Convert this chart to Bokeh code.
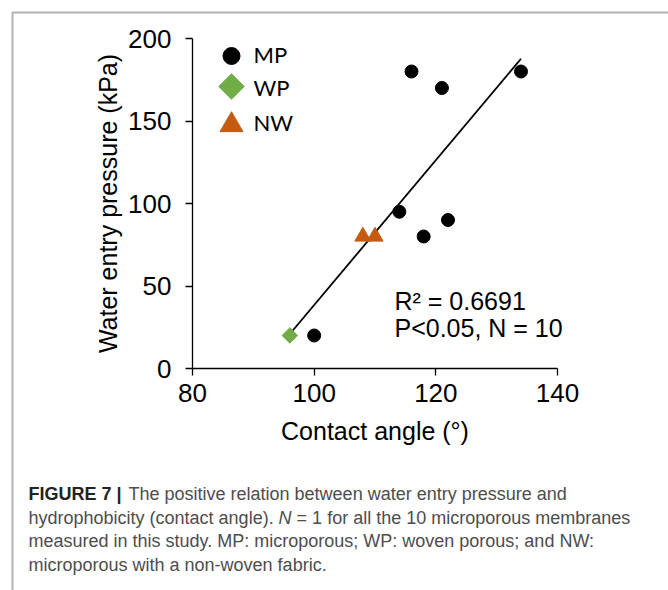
import numpy as np
from bokeh.plotting import figure
from bokeh.models import Range1d, PolyAnnotation, FixedTicker
from bokeh.core.properties import value
from bokeh.embed import file_html
from bokeh.resources import INLINE

# ---------------- data ----------------
mp_angle = [116, 121, 134, 114, 122, 118, 100]
mp_pressure = [180, 170, 180, 95, 90, 80, 20]
wp_angle = [96]
wp_pressure = [20]
nw_angle = [108, 110]
nw_pressure = [80, 80]
x_ticks = [80, 100, 120, 140]
y_ticks = [0, 50, 100, 150, 200]
legend_labels = ["MP", "WP", "NW"]
stats_lines = ["R² = 0.6691", "P<0.05, N = 10"]
caption_bold = "FIGURE 7 |"
caption_l1 = "The positive relation between water entry pressure and"
caption_l2a = "hydrophobicity (contact angle)."
caption_l2n = "N"
caption_l2b = "= 1 for all the 10 microporous membranes"
caption_l3 = "measured in this study. MP: microporous; WP: woven porous; and NW:"
caption_l4 = "microporous with a non-woven fabric."

# ---------------- layout ----------------
W, H = 668, 590
FL, FR, FT, FB = 192, 557, 38, 368  # plot-area edges in pixels
X0, X1, Y0, Y1 = 80, 140, 0, 200


def dx(px):
    return X0 + (px - FL) * (X1 - X0) / (FR - FL)


def dy(py):
    return Y0 + (FB - py) * (Y1 - Y0) / (FB - FT)


def ty(baseline_px, size):
    # text anchor for a wanted baseline (empirical renderer offset)
    return dy(baseline_px - 0.4 * size)


p = figure(width=W, height=H, output_backend="svg", toolbar_location=None,
           x_range=Range1d(dx(0), dx(W)), y_range=Range1d(dy(H), dy(0)),
           min_border=0)
p.title.visible = False
p.grid.visible = False
p.outline_line_color = None
p.background_fill_color = "white"
p.border_fill_color = "white"

p.xaxis.ticker = FixedTicker(ticks=x_ticks)
p.yaxis.ticker = FixedTicker(ticks=y_ticks)
p.xaxis.fixed_location = Y0
p.yaxis.fixed_location = X0
p.xaxis.bounds = (X0, X1)
p.yaxis.bounds = (Y0, Y1)
for ax in (p.xaxis[0], p.yaxis[0]):
    ax.axis_line_color = "black"
    ax.axis_line_width = 1.3
    ax.major_tick_line_color = "black"
    ax.major_tick_line_width = 1.3
    ax.major_tick_out = 7
    ax.major_tick_in = 0
    ax.minor_tick_line_color = None
    ax.major_label_text_font = "Liberation Sans"
    ax.major_label_text_font_size = "26px"
    ax.major_label_text_color = "black"
    ax.axis_label_text_font = "Liberation Sans"
    ax.axis_label_text_font_size = "25px"
    ax.axis_label_text_font_style = "normal"
    ax.axis_label_text_color = "black"
p.xaxis.axis_label = "Contact angle (°)"
p.yaxis.axis_label = "Water entry pressure (kPa)"
p.xaxis.major_label_standoff = 8
p.yaxis.major_label_standoff = 14
p.xaxis.axis_label_standoff = 12
p.yaxis.axis_label_standoff = 3

# ---------------- trend line ----------------
all_x = np.array(mp_angle + wp_angle + nw_angle, dtype=float)
all_y = np.array(mp_pressure + wp_pressure + nw_pressure, dtype=float)
slope, intercept = np.polyfit(all_x, all_y, 1)
lx = np.array([all_x.min(), all_x.max()])
p.line(lx, slope * lx + intercept, line_color="black", line_width=1.8)

# ---------------- points ----------------
p.scatter(mp_angle, mp_pressure, marker="circle", size=13, color="black")
p.scatter(wp_angle, wp_pressure, marker="square", size=11, angle=np.pi / 4,
          color="#70AD47")
p.scatter(nw_angle, nw_pressure, marker="triangle", size=16, color="#C55A11")

# ---------------- legend (manual) ----------------
lg_x = dx(231)
p.scatter([lg_x], [dy(55.5)], marker="circle", size=17, color="black")
p.scatter([lg_x], [dy(86)], marker="square", size=18, angle=np.pi / 4,
          color="#70AD47")
p.scatter([lg_x], [dy(124.5)], marker="triangle", size=23, color="#C55A11")
p.text(x=[dx(253)] * 3, y=[ty(v, 22) for v in (63, 96, 130.5)], text=legend_labels,
       text_font=value("Lato"), text_font_size="22px", text_color="black",
       text_baseline="alphabetic")

# ---------------- stats text ----------------
p.text(x=[dx(394)] * 2, y=[ty(310, 25), ty(337, 25)], text=stats_lines,
       text_font=value("Liberation Sans"), text_font_size="25px",
       text_color="black", text_baseline="alphabetic")

# ---------------- caption ----------------
cap_col = "#4d4d4d"
base = [501, 524.5, 548, 571.5]


def cap(px, by, txt, style="normal", color=cap_col):
    p.text(x=[dx(px)], y=[ty(by, 18)], text=[txt], text_font=value("Liberation Sans"),
           text_font_size="18px", text_font_style=style, text_color=color,
           text_baseline="alphabetic")


cap(28, base[0], caption_bold, "bold", "#222222")
cap(128, base[0], caption_l1)
cap(28, base[1], caption_l2a)
cap(28 + 13.895 * 18, base[1], caption_l2n, "italic")
cap(28 + 14.895 * 18, base[1], caption_l2b)
cap(28, base[2], caption_l3)
cap(28, base[3], caption_l4)

# border (top and left edges of the figure box)
p.add_layout(PolyAnnotation(xs=[dx(12), dx(12), dx(700), dx(700)],
                            ys=[dy(620), dy(12), dy(12), dy(620)],
                            fill_alpha=0, line_color="black", line_width=2))

open("out.html", "w").write(file_html(p, INLINE))
